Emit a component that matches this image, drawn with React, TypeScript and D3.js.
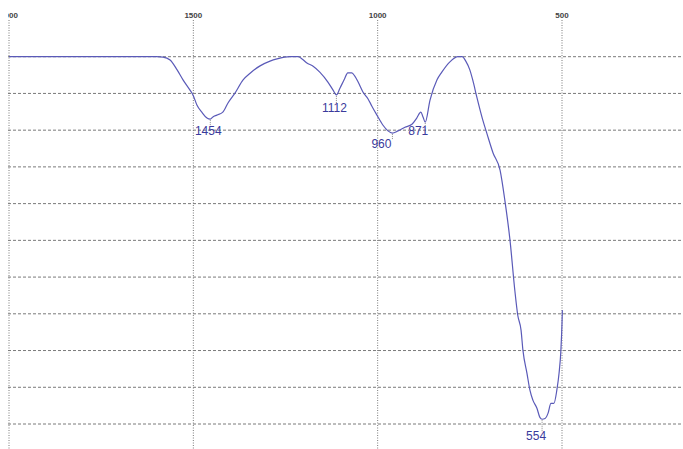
import * as d3 from "d3";

// wavenumber (cm-1) and transmittance (%)
const wavenumbers = [
  2000, 1600, 1582, 1563, 1544, 1528, 1509, 1501, 1490, 1477, 1463, 1454, 1447, 1436, 1420, 1406,
  1387, 1365, 1346, 1319, 1292, 1273, 1238, 1216, 1205, 1192, 1176, 1157, 1135, 1121, 1112, 1102,
  1091, 1081, 1070, 1062, 1053, 1040, 1026, 1016, 1002, 986, 972, 960, 945, 926, 907, 894, 883,
  877, 871, 858, 839, 826, 804, 782, 771, 761, 750, 742, 731, 715, 704, 687, 668, 655, 641, 628,
  620, 611, 606, 595, 587, 579, 568, 560, 554, 546, 538, 530, 522, 514, 508, 503, 500, 499,
];
const transmittance = [
  100, 100, 99.9, 99.1, 96.4, 93.7, 90.9, 89.6, 86.8, 84.9, 83.3, 83.0, 83.6, 84.1, 84.9, 87.4,
  90.1, 93.7, 95.5, 97.5, 98.8, 99.4, 100, 100, 99.4, 98.3, 97.5, 95.8, 93.1, 90.9, 89.6, 91.5,
  93.7, 95.6, 95.6, 94.7, 93.1, 90.4, 88.5, 86.6, 84.1, 81.4, 79.8, 79.2, 79.8, 80.8, 81.6, 83.3, 84.9,
  83.6, 82.2, 88.2, 93.7, 95.8, 98.6, 100, 100, 98.8, 96.4, 93.6, 89.0, 82.8, 79.2, 73.8, 69.1, 60.9, 50.0, 36.4,
  29.6, 25.5, 20.1, 13.8, 9.2, 6.5, 4.3, 1.8, 1.3, 1.5, 2.9, 5.6, 5.6, 9.2, 13.8, 20.1, 27.4, 31.0,
];

const peaks = [1454, 1112, 960, 871, 554];
const xTicks = [2000, 1500, 1000, 500];
const yTicks = [100, 90, 80, 70, 60, 50, 40, 30, 20, 10, 0];

// label placement relative to each peak
const labelDx = [-2, -2, -11, -7, -6];
const labelDy = [16, 17, 15, 13, 21];

const W = 683;
const H = 449;

export default function App() {
  const x = d3.scaleLinear().domain([2000, 500]).range([9, 562]);
  const y = d3.scaleLinear().domain([100, 0]).range([56.7, 424]);

  const pts = wavenumbers.map((w, i) => [w, transmittance[i]] as [number, number]);
  const line = d3
    .line<[number, number]>()
    .x((d) => x(d[0]))
    .y((d) => y(d[1]))
    .curve(d3.curveMonotoneX);

  // transmittance at the point closest to a given wavenumber
  const peakY = (p: number) => {
    const i = d3.minIndex(wavenumbers, (w) => Math.abs(w - p));
    return transmittance[i];
  };

  return (
    <svg
      width={W}
      height={H}
      style={{ position: "absolute", left: 0, top: 0, background: "#fff" }}
      fontFamily="Arial, 'Liberation Sans', sans-serif"
    >
      <defs>
        <clipPath id="crop">
          <rect x={8} y={0} width={W - 8} height={H} />
        </clipPath>
      </defs>
      <g clipPath="url(#crop)">
        {yTicks.map((t) => (
          <line
            key={"h" + t}
            x1={8}
            x2={W}
            y1={y(t)}
            y2={y(t)}
            stroke="#7a7a7a"
            strokeWidth={1}
            strokeDasharray="3,2"
          />
        ))}
        {xTicks.map((t) => (
          <g key={"v" + t}>
            <line
              x1={x(t)}
              x2={x(t)}
              y1={20}
              y2={H}
              stroke="#7a7a7a"
              strokeWidth={1}
              strokeDasharray="1,1.5"
            />
            <text x={x(t)} y={18} textAnchor="middle" fontSize={8} fontWeight="bold" fill="#444">
              {t}
            </text>
          </g>
        ))}
        <path d={line(pts) ?? ""} fill="none" stroke="#5a5ab8" strokeWidth={1.2} />
        {peaks.map((p, i) => {
          const py = y(peakY(p));
          return (
            <g key={"p" + p}>
              <line
                x1={x(p)}
                x2={x(p)}
                y1={py + 1}
                y2={py + labelDy[i] - 9}
                stroke="#888"
                strokeWidth={1}
                strokeDasharray="1,1"
              />
              <text
                x={x(p) + labelDx[i]}
                y={py + labelDy[i]}
                textAnchor="middle"
                fontSize={12}
                fill="#3a3a9c"
              >
                {p}
              </text>
            </g>
          );
        })}
      </g>
    </svg>
  );
}
